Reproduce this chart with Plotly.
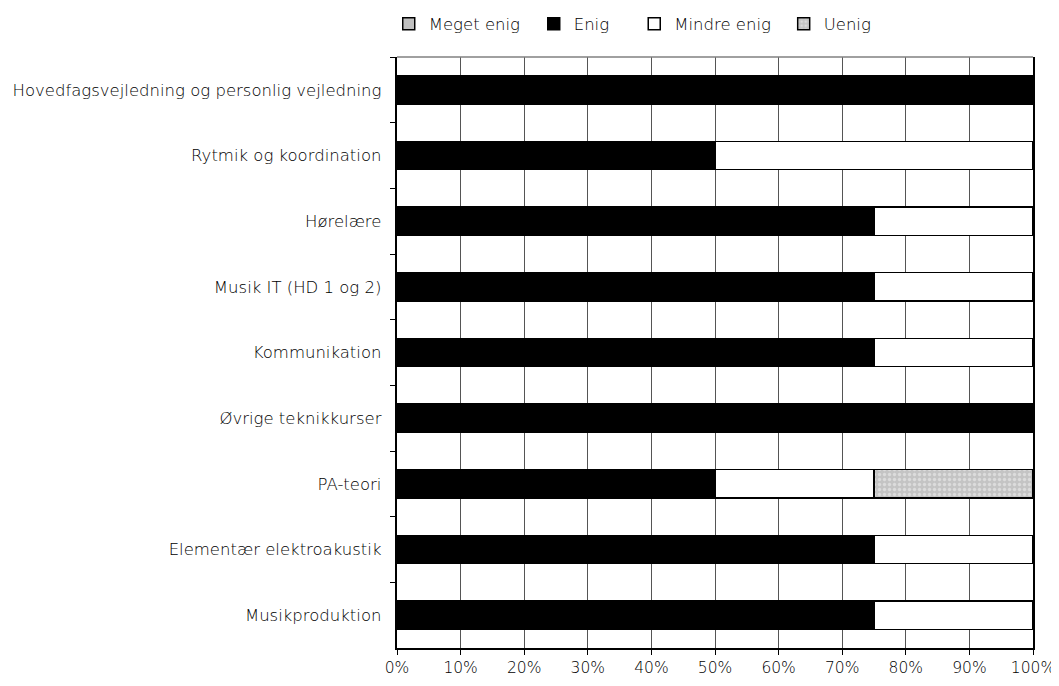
"""Stacked horizontal bar chart: agreement per course (Danish survey)."""

import plotly.graph_objects as go

FONT = "DejaVu Sans"

courses = [
    "Hovedfagsvejledning og personlig vejledning",
    "Rytmik og koordination",
    "Hørelære",
    "Musik IT (HD 1 og 2)",
    "Kommunikation",
    "Øvrige teknikkurser",
    "PA-teori",
    "Elementær elektroakustik",
    "Musikproduktion",
]

meget_enig = [0, 0, 0, 0, 0, 0, 0, 0, 0]
enig = [100, 50, 75, 75, 75, 100, 50, 75, 75]
mindre_enig = [0, 50, 25, 25, 25, 0, 25, 25, 25]
uenig = [0, 0, 0, 0, 0, 0, 25, 0, 0]

x_ticks = [0, 10, 20, 30, 40, 50, 60, 70, 80, 90, 100]
x_labels = [f"{v}%" for v in x_ticks]

fig = go.Figure()

_line = dict(color="#000000", width=1.5)
fig.add_trace(go.Bar(y=courses, x=meget_enig, name="Meget enig", orientation="h", legend="legend",
                     marker=dict(color="#c0c0c0", line=_line)))
fig.add_trace(go.Bar(y=courses, x=enig, name="Enig", orientation="h", legend="legend2",
                     marker=dict(color="#000000", line=_line)))
fig.add_trace(go.Bar(y=courses, x=mindre_enig, name="Mindre enig", orientation="h", legend="legend3",
                     marker=dict(color="#ffffff", line=_line)))
fig.add_trace(go.Bar(y=courses, x=uenig, name="Uenig", orientation="h", legend="legend4",
                     marker=dict(color="#c4c4c4", line=_line,
                                 pattern=dict(shape=".", fgcolor="#f4f4f4", bgcolor="#c4c4c4",
                                              size=5, solidity=0.35))))

# top border of plot area (lighter than the axis lines)
fig.add_shape(type="line", xref="paper", yref="paper", x0=0, x1=1, y0=1, y1=1,
              line=dict(color="#808080", width=1.5))


def _legend(x):
    return dict(orientation="h", x=x, y=1.056, xanchor="left", yanchor="middle",
                font=dict(size=16.5, weight=200), itemwidth=30, bgcolor="rgba(0,0,0,0)")


# page body has an 8px margin, so the figure is drawn 8px smaller
fig.update_layout(
    width=1051,
    height=678,
    barmode="stack",
    bargap=0.57,
    plot_bgcolor="#ffffff",
    paper_bgcolor="#ffffff",
    font=dict(family=FONT, color="#000000", size=16.5, weight=200),
    margin=dict(l=389, r=26, t=49, b=38, autoexpand=False),
    showlegend=True,
    legend=_legend(-0.013),
    legend2=_legend(0.215),
    legend3=_legend(0.373),
    legend4=_legend(0.608),
    xaxis=dict(
        range=[0, 100],
        tickvals=x_ticks,
        ticktext=x_labels,
        tickfont=dict(size=15.5),
        showgrid=True,
        gridcolor="#555555",
        gridwidth=1.2,
        showline=True,
        linecolor="#000000",
        linewidth=1.5,
        ticks="outside",
        ticklen=5,
        tickcolor="#000000",
        zeroline=False,
        fixedrange=True,
    ),
    yaxis=dict(
        categoryorder="array",
        categoryarray=courses,
        autorange="reversed",
        showgrid=False,
        showline=True,
        mirror=True,
        linecolor="#000000",
        linewidth=1.5,
        ticks="outside",
        tickson="boundaries",
        ticklen=5,
        tickcolor="#000000",
        ticksuffix="  ",
        fixedrange=True,
    ),
)

fig.write_html("out.html")
